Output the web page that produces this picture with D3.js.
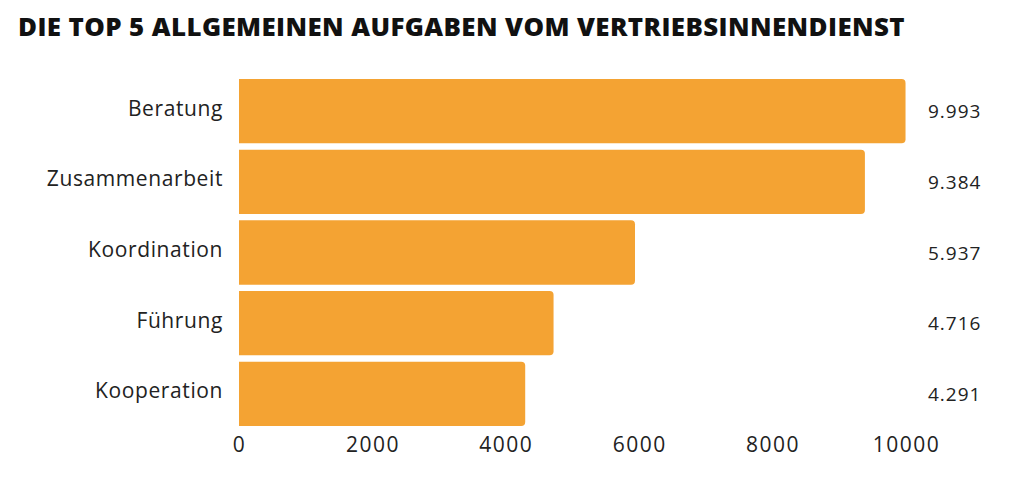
<!DOCTYPE html>
<html><head><meta charset="utf-8">
<script src="https://cdn.jsdelivr.net/npm/d3@7"></script>
<style>body{margin:0;background:#fff}</style></head>
<body><svg id="c" width="1014" height="489"></svg>
<script>
const categories=["Beratung","Zusammenarbeit","Koordination","Führung","Kooperation"];
const values=[9993,9384,5937,4716,4291];
const valueLabels=["9.993","9.384","5.937","4.716","4.291"];
const ticks=[0,2000,4000,6000,8000,10000];
const svg=d3.select("#c");
const x=d3.scaleLinear().domain([0,10000]).range([239,906]);
const y=d3.scaleBand().domain(categories).range([79,426]).paddingInner(0.09).paddingOuter(0);
svg.append("text").attr("x",18).attr("y",36).text("DIE TOP 5 ALLGEMEINEN AUFGABEN VOM VERTRIEBSINNENDIENST")
 .attr("font-family","Open Sans").attr("font-weight",800).attr("font-size",25.5).attr("letter-spacing",0.4).attr("fill","#111")
 .attr("textLength",887).attr("lengthAdjust","spacingAndGlyphs");
const r=4;
svg.selectAll("path.bar").data(categories).join("path").attr("fill","#F4A333")
 .attr("d",(d,i)=>{const x0=x(0),x1=x(values[i]),y0=y(d),h=y.bandwidth();
  return `M${x0},${y0}H${x1-r}Q${x1},${y0} ${x1},${y0+r}V${y0+h-r}Q${x1},${y0+h} ${x1-r},${y0+h}H${x0}Z`;});
svg.selectAll("text.cat").data(categories).join("text").attr("x",223).attr("y",d=>y(d)+y.bandwidth()/2-1)
 .attr("text-anchor","end").attr("dominant-baseline","middle").attr("font-family","Open Sans").attr("font-size",21).attr("letter-spacing",0.6).attr("fill","#222").text(d=>d);
svg.selectAll("text.val").data(categories).join("text").attr("x",928).attr("y",(d,i)=>y(d)+y.bandwidth()/2+2)
 .attr("dominant-baseline","middle").attr("font-family","Open Sans").attr("font-size",19).attr("letter-spacing",1).attr("fill","#222").text((d,i)=>valueLabels[i]);
const ax=svg.append("g").attr("transform","translate(0,427)").call(d3.axisBottom(x).tickValues(ticks).tickFormat(d3.format("d")).tickSize(0).tickPadding(10));
ax.select(".domain").remove();
ax.selectAll("text").attr("font-family","Open Sans").attr("font-size",21).attr("letter-spacing",1.5).attr("fill","#222");
</script></body></html>
